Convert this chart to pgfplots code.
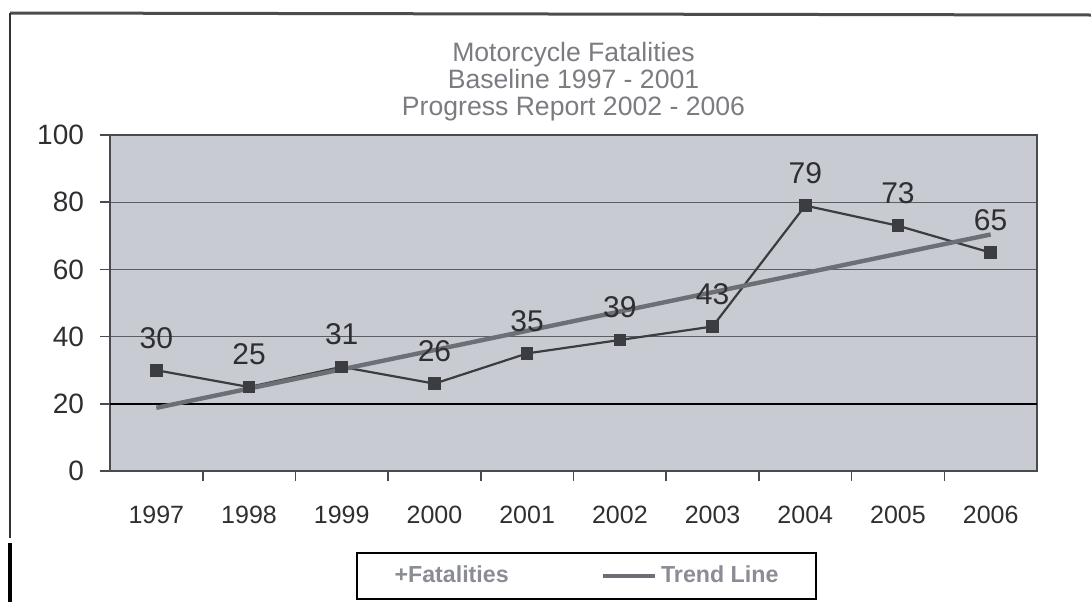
\documentclass[border=0pt]{standalone}
\usepackage{fontspec}
\setmainfont{Liberation Sans}
\usepackage{pgfplots}
\usepackage{pgfplotstable}
\pgfplotsset{compat=1.18}

\definecolor{plotbg}{HTML}{C8CBD1}
\definecolor{framec}{HTML}{4A4B4F}
\definecolor{gridc}{HTML}{5C5E63}
\definecolor{titlec}{HTML}{7A7C82}
\definecolor{legendc}{HTML}{8A8D93}
\definecolor{labelc}{HTML}{2E2F32}
\definecolor{seriesc}{HTML}{3C3D41}
\definecolor{trendc}{HTML}{6C6F76}

\pgfplotsset{trendlegend/.style={legend image code/.code={\draw[##1] (0pt,0pt) -- (26pt,0pt);}}}

% Motorcycle fatalities, 1997 = 0 ... 2006 = 9
\pgfplotstableread{
idx value
0 30
1 25
2 31
3 26
4 35
5 39
6 43
7 79
8 73
9 65
}\fatalities

% linear trend of the series above
\pgfplotstableread{
idx trend
0 18.8
9 70.4
}\trendline

\begin{document}
\begin{tikzpicture}
\useasboundingbox (-55pt,-65.5pt) rectangle (490.5pt,235.5pt);
\begin{axis}[
  at={(0,0)}, anchor=south west,
  scale only axis, width=463.5pt, height=168pt,
  xmin=-0.5, xmax=9.5, ymin=0, ymax=100,
  axis background/.style={fill=plotbg},
  axis line style={draw=framec, line width=0.8pt},
  /pgf/number format/assume math mode=true,
  ytick={0,20,...,100},
  ymajorgrids,
  grid style={draw=gridc, line width=0.6pt},
  extra y ticks={20}, extra y tick labels={},
  extra y tick style={grid style={draw=black, line width=1.1pt}},
  xtick={0,...,9},
  xticklabels={1997,1998,1999,2000,2001,2002,2003,2004,2005,2006},
  minor xtick={0.5,1.5,...,8.5},
  xtick pos=bottom, ytick pos=left,
  tick align=outside,
  major tick length=5pt, minor tick length=5pt,
  major x tick style={draw=none},
  minor x tick style={draw=framec, line width=0.8pt},
  y tick style={draw=framec, line width=0.8pt},
  yticklabel style={font=\fontsize{14}{16}\selectfont, text=labelc, xshift=-4.5pt},
  xticklabel style={font=\fontsize{12.5}{14}\selectfont, text=labelc, yshift=-9pt},
  title={Motorcycle Fatalities\\Baseline 1997 - 2001\\Progress Report 2002 - 2006},
  title style={font=\fontsize{13.3}{13.5}\selectfont, text=titlec, align=center, yshift=-2.5pt},
  legend columns=2,
  legend cell align=left,
  legend style={at={(0.514,-0.3125)}, anchor=center, draw=black, line width=1pt,
    fill=white, font=\bfseries\fontsize{11.6}{13}\selectfont, text=legendc,
    inner xsep=17pt, inner ysep=4.5pt,
    /tikz/every even column/.append style={column sep=44pt}},
]
\addlegendimage{empty legend}
\addlegendentry{+Fatalities}

\addplot[seriesc, line width=1.1pt, mark=square*, mark size=2.6pt,
  mark options={fill=seriesc, draw=seriesc},
  nodes near coords,
  every node near coord/.append style={font=\fontsize{15}{17}\selectfont, text=labelc, anchor=south, yshift=7pt},
  forget plot] table[x=idx, y=value] {\fatalities};

\addplot[trendc, line width=2.2pt, trendlegend]
  table[x=idx, y=trend] {\trendline};
\addlegendentry{Trend Line}
\end{axis}
\draw[line width=1.5pt, draw=black!70] (-50pt,229pt) -- (490.5pt,228pt);
\draw[line width=1pt, draw=black!80] (-50pt,229pt) -- (-50pt,-33.5pt);
\draw[line width=2pt, draw=black] (-50pt,-36pt) -- (-50pt,-65.5pt);
\end{tikzpicture}
\end{document}
